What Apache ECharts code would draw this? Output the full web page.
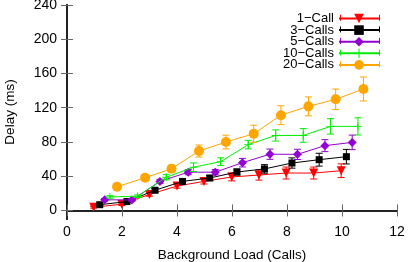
<!DOCTYPE html>
<html><head><meta charset="utf-8">
<script src="https://cdn.jsdelivr.net/npm/echarts@6/dist/echarts.min.js"></script>
<style>html,body{margin:0;padding:0;background:#fff}#c{width:414px;height:262px}</style>
</head><body><div id="c"></div>
<script>
const seriesNames = ['1\u2212Call','3\u2212Calls','5\u2212Calls','10\u2212Calls','20\u2212Calls'];
const xTicks = [0,2,4,6,8,10,12];
const yTicks = [0,40,80,120,160,200,240];

const x1 = [0.97,1.99,3.0,4.0,4.98,5.99,6.98,7.97,8.97,9.97];
const y1 = [3.7,7.3,18.7,28.5,33.9,39.1,41.4,43.7,43.7,46.4];
const e1 = [1,1.5,2,2.5,3,4.5,6,7,7,8];

const x3 = [1.19,2.18,3.2,4.2,5.19,6.18,7.18,8.18,9.17,10.16];
const y3 = [6.7,10.4,23.6,33.9,37.9,44.9,48.5,55.4,59.3,62.8];
const e3 = [1,1.5,2,2.5,3,3.5,5,6,7.5,8.5];

const x5 = [1.37,2.36,3.38,4.41,5.39,6.38,7.38,8.38,9.38,10.37];
const y5 = [12.5,12.2,33.9,44.7,44.7,55.8,65.7,65.5,75.7,79.5];
const e5 = [1.5,1.5,2.5,3,3,5,6,6,7,8.5];

const x10 = [1.56,2.57,3.61,4.6,5.59,6.59,7.59,8.59,9.58,10.58];
const y10 = [15.8,16.6,38.8,50.5,57,76.9,87.6,87.6,98.2,98.2];
const e10 = [1.5,1.5,3,5,4.5,5,6.5,8,9,10];

const x20 = [1.82,2.84,3.8,4.8,5.78,6.79,7.78,8.78,9.77,10.78];
const y20 = [27.7,38.2,48.7,69.4,79.9,89.6,111.3,121.6,129.8,141.9];
const e20 = [2,2.5,4,7,8,10,11,11,12,14];

const colors = ['#ff0000','#000000','#9400d3','#00ee00','#ffa500'];
const symbols = ['triangle','rect','diamond','path://M4,0h1v9h-1z M0,4h9v1h-9z','circle'];
const symSizes = [9,7,9,8,10];
const rotates = [180,0,0,0,0];
const xs = [x1,x3,x5,x10,x20], ys = [y1,y3,y5,y10,y20], es = [e1,e3,e5,e10,e20];

const series = [];
for (let i = 0; i < 5; i++) {
  const color = colors[i];
  series.push({
    name: 'err' + i, type: 'custom', z: 2 + i * 2,
    data: xs[i].map((x, k) => [x, ys[i][k] - es[i][k], ys[i][k] + es[i][k]]),
    encode: { x: 0, y: [1, 2] },
    renderItem: function (params, api) {
      const top = api.coord([api.value(0), api.value(2)]);
      const bot = api.coord([api.value(0), api.value(1)]);
      const hw = 3.5;
      const st = { stroke: color, lineWidth: 1 };
      return { type: 'group', children: [
        { type: 'line', shape: { x1: top[0], y1: top[1], x2: bot[0], y2: bot[1] }, style: st },
        { type: 'line', shape: { x1: top[0] - hw, y1: top[1], x2: top[0] + hw, y2: top[1] }, style: st },
        { type: 'line', shape: { x1: bot[0] - hw, y1: bot[1], x2: bot[0] + hw, y2: bot[1] }, style: st }
      ]};
    },
    silent: true, animation: false
  });
  series.push({
    name: seriesNames[i], type: 'line', z: 3 + i * 2,
    data: xs[i].map((x, k) => [x, ys[i][k]]),
    symbol: symbols[i], symbolSize: symSizes[i], symbolRotate: rotates[i],
    showAllSymbol: true,
    itemStyle: { color: color, borderWidth: 0 },
    lineStyle: { color: color, width: 1 },
    animation: false
  });
}

// end caps of the legend's error-bar samples
const legendCaps = [];
for (let i = 0; i < 5; i++) {
  const cy = 17.8 + i * 11.6;
  [340.5, 379.5].forEach(cx => legendCaps.push({
    type: 'line', silent: true, z: 100,
    shape: { x1: cx, y1: cy - 3, x2: cx, y2: cy + 3 },
    style: { stroke: colors[i], lineWidth: 1 }
  }));
}

const font = 'Liberation Sans, Arial, sans-serif';
const chart = echarts.init(document.getElementById('c'), null, { renderer: 'canvas' });
chart.setOption({
  backgroundColor: '#fff',
  animation: false,
  grid: { left: 67, right: 17, top: 5, bottom: 43, containLabel: false, outerBoundsMode: 'none' },
  legend: {
    data: seriesNames, orient: 'vertical', align: 'right', padding: 0,
    right: 34, top: 12, itemWidth: 40, itemHeight: 12, itemGap: -1.4,
    textStyle: { fontFamily: font, fontSize: 13, color: '#000' },
    selectedMode: false
  },
  graphic: legendCaps,
  xAxis: [{
    type: 'value', min: 0, max: 12, interval: 2, position: 'bottom',
    name: 'Background Load (Calls)', nameLocation: 'middle', nameGap: 29,
    nameTextStyle: { fontFamily: font, fontSize: 13.5, color: '#000' },
    axisLine: { show: true, lineStyle: { color: '#222', width: 2 } },
    axisTick: { show: true, inside: true, length: 6, lineStyle: { color: '#666', width: 1 } },
    axisLabel: { fontFamily: font, fontSize: 14, color: '#000', margin: 6,
      customValues: xTicks },
    splitLine: { show: false }
  }, {
    type: 'value', min: 0, max: 12, interval: 2, position: 'top',
    axisLine: { show: true, lineStyle: { color: '#222', width: 2 } },
    axisTick: { show: true, inside: true, length: 6, lineStyle: { color: '#666', width: 1 } },
    axisLabel: { show: false }, splitLine: { show: false }
  }],
  yAxis: [{
    type: 'value', min: -10, max: 240, position: 'left',
    name: 'Delay (ms)', nameLocation: 'middle', nameGap: 50, nameRotate: 90,
    nameTextStyle: { fontFamily: font, fontSize: 13.5, color: '#000' },
    axisLine: { show: true, lineStyle: { color: '#222', width: 2 } },
    axisTick: { show: true, inside: true, length: 6, customValues: yTicks, lineStyle: { color: '#666', width: 1 } },
    axisLabel: { fontFamily: font, fontSize: 14, color: '#000', margin: 10, customValues: yTicks },
    splitLine: { show: false }
  }, {
    type: 'value', min: -10, max: 240, position: 'right',
    axisLine: { show: true, lineStyle: { color: '#222', width: 2 } },
    axisTick: { show: true, inside: true, length: 6, customValues: yTicks, lineStyle: { color: '#666', width: 1 } },
    axisLabel: { show: false }, splitLine: { show: false }
  }],
  series: series
});
</script></body></html>
